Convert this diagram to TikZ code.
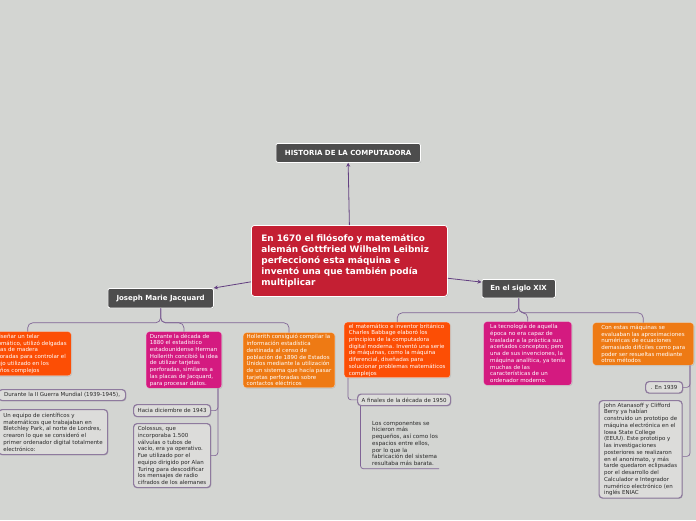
\documentclass[tikz,border=0pt]{standalone}
\usepackage{fontspec}
\setmainfont{DejaVu Sans}
\usetikzlibrary{arrows.meta,shadows,calc}
\definecolor{bgc}{RGB}{211,213,210}
\definecolor{darkbox}{RGB}{77,77,77}
\definecolor{crim}{RGB}{196,31,51}
\definecolor{ored}{RGB}{252,78,5}
\definecolor{mag}{RGB}{212,26,128}
\definecolor{orng}{RGB}{238,122,20}
\definecolor{treec}{RGB}{128,100,150}
\definecolor{arrc}{RGB}{100,65,130}
\definecolor{gborder}{RGB}{142,122,158}
\definecolor{gfill}{RGB}{220,220,218}
\definecolor{gtext}{RGB}{40,40,40}
\tikzset{
  sz/.style 2 args={minimum width=#1, minimum height=#2},
  shd/.style={drop shadow={shadow xshift=0.8pt, shadow yshift=-0.8pt, opacity=0.25}},
  darkbox/.style={shd, draw=white, line width=0.8pt, fill=darkbox, rounded corners=2pt,
    text=white, font=\fontsize{7}{8}\selectfont\bfseries, inner sep=0pt, anchor=north west},
  cbox/.style={shd, draw=white, draw opacity=0.5, line width=0.4pt, rounded corners=3pt,
    text=white, font=\fontsize{5.5}{6.7}\selectfont, align=left, inner xsep=3.5pt,
    inner ysep=1.5pt, anchor=north west},
  gbox/.style={shd, draw=gborder, line width=1.2pt, fill=gfill, rounded corners=3.5pt,
    text=gtext, font=\fontsize{5.5}{6.75}\selectfont, align=left, inner xsep=3.5pt,
    inner ysep=1pt, anchor=north west},
  tree/.style={draw=treec, line width=0.7pt},
  arr/.style={draw=arrc, line width=0.8pt, -{Stealth[length=4pt,width=4pt]}},
}
\begin{document}
\begin{tikzpicture}[x=1pt,y=-1pt]
\useasboundingbox (0,0) rectangle (696,520);
\clip (0,0) rectangle (696,520);
\fill[bgc] (0,0) rectangle (696,520);

% main nodes
\node[darkbox, sz={144.5pt}{19pt}] (title) at (275.5,143) {HISTORIA DE LA COMPUTADORA};
\node[shd, draw=white, line width=0.8pt, fill=crim, rounded corners=3pt, anchor=north west,
  text=white, font=\fontsize{8.9}{10.8}\selectfont\bfseries, align=left,
  text width=176pt, inner xsep=10pt, inner ysep=2pt, sz={195.5pt}{71pt}] (center) at (251,225)
  {En 1670 el filósofo y matemático\\alemán Gottfried Wilhelm Leibniz\\perfeccionó esta máquina e\\inventó una que también podía\\multiplicar};
\node[darkbox, sz={105.5pt}{19.5pt}] (jac) at (107.5,288) {Joseph Marie Jacquard};
\node[darkbox, sz={73.5pt}{18.5pt}] (xix) at (481.5,279) {En el siglo XIX};

% Jacquard branch
\node[cbox, fill=ored, sz={87pt}{44pt}] (o1) at (-16,331.5)
  {Al diseñar un telar\\automático, utilizó delgadas\\placas de madera\\perforadas para controlar el\\dibujo utilizado en los\\diseños complejos};
\node[cbox, fill=mag, sz={75.5pt}{56.5pt}] (m1) at (146,331.5)
  {Durante la década de\\1880 el estadístico\\estadounidense Herman\\Hollerith concibió la idea\\de utilizar tarjetas\\perforadas, similares a\\las placas de Jacquard,\\para procesar datos.};
\node[cbox, fill=orng, sz={91pt}{55pt}] (o2) at (243,332.5)
  {Hollerith consiguió compilar la\\información estadística\\destinada al censo de\\población de 1890 de Estados\\Unidos mediante la utilización\\de un sistema que hacía pasar\\tarjetas perforadas sobre\\contactos eléctricos};

\node[gbox, sz={127pt}{11pt}] (dur) at (-2,389) {Durante la II Guerra Mundial (1939-1945),};
\node[gbox, sz={109pt}{45pt}] (equipo) at (-2,409)
  {Un equipo de científicos y\\matemáticos que trabajaban en\\Bletchley Park, al norte de Londres,\\crearon lo que se consideró el\\primer ordenador digital totalmente\\electrónico:};
\node[gbox, sz={77pt}{12pt}] (hacia) at (133,404) {Hacia diciembre de 1943};
\node[gbox, sz={77pt}{64pt}] (colo) at (133,423)
  {Colossus, que\\incorporaba 1.500\\válvulas o tubos de\\vacío, era ya operativo.\\Fue utilizado por el\\equipo dirigido por Alan\\Turing para descodificar\\los mensajes de radio\\cifrados de los alemanes};

% XIX branch
\node[cbox, fill=ored, sz={106pt}{55pt}] (babb) at (344,322)
  {el matemático e inventor británico\\Charles Babbage elaboró los\\principios de la computadora\\digital moderna. Inventó una serie\\de máquinas, como la máquina\\diferencial, diseñadas para\\solucionar problemas matemáticos\\complejos};
\node[cbox, fill=mag, sz={88pt}{63.5pt}] (m2) at (483.5,321.5)
  {La tecnología de aquella\\época no era capaz de\\trasladar a la práctica sus\\acertados conceptos; pero\\una de sus invenciones, la\\máquina analítica, ya tenía\\muchas de las\\características de un\\ordenador moderno.};
\node[cbox, fill=orng, sz={101pt}{42.5pt}] (o3) at (592.5,322.5)
  {Con estas máquinas se\\evaluaban las aproximaciones\\numéricas de ecuaciones\\demasiado difíciles como para\\poder ser resueltas mediante\\otros métodos};

\node[gbox, sz={93pt}{11.5pt}] (afin) at (357,393.5) {A finales de la década de 1950};
\node[anchor=north west, inner sep=0pt, text=gtext, font=\fontsize{5.6}{6.7}\selectfont, align=left] (los) at (372,421)
  {Los componentes se\\hicieron más\\pequeños, así como los\\espacios entre ellos,\\por lo que la\\fabricación del sistema\\resultaba más barata.};
\node[gbox, sz={37pt}{11.5pt}] (en39) at (645,381) {. En 1939};
\node[gbox, sz={83pt}{97.5pt}] (john) at (598.5,400)
  {John Atanasoff y Clifford\\Berry ya habían\\construido un prototipo de\\máquina electrónica en el\\Iowa State College\\(EEUU). Este prototipo y\\las investigaciones\\posteriores se realizaron\\en el anonimato, y más\\tarde quedaron eclipsadas\\por el desarrollo del\\Calculador e Integrador\\numérico electrónico (en\\inglés ENIAC};

% arrows from center
\draw[arr] (center.north) -- (title.south);
\draw[arr] (center.192) -- (jac.north east);
\draw[arr] (center.-10) -- (xix.170);

% tree connectors
\coordinate (jb) at ($(jac.south)+(0,14.5)$);
\draw[tree, rounded corners=5pt] (jac.south) -- (jb) -| (o1.north);
\draw[tree, rounded corners=5pt] (jac.south) -- (jb) -| (m1.north);
\draw[tree, rounded corners=5pt] (jac.south) -- (jb) -| (o2.north);

\coordinate (xb) at ($(xix.south)+(0,14.5)$);
\draw[tree, rounded corners=5pt] (xix.south) -- (xb) -| (babb.north);
\draw[tree, rounded corners=5pt] (xix.south) -- (xb) -| (m2.north);
\draw[tree, rounded corners=5pt] (xix.south) -- (xb) -| (o3.north);

\coordinate (m1d) at ($(m1.south east)+(-4,0)$);
\draw[tree, rounded corners=3pt] (m1d) |- (hacia.east);
\draw[tree, rounded corners=3pt] (m1d) |- (colo.east);

\coordinate (o3d) at ($(o3.south east)+(-4,0)$);
\draw[tree, rounded corners=3pt] (o3d) |- (en39.east);
\draw[tree, rounded corners=3pt] (o3d) |- ($(john.east)+(0,7)$);

\draw[tree, rounded corners=3pt] ($(babb.south west)+(4,0)$) |- (afin.west);
\draw[tree, rounded corners=3pt] ($(afin.south west)+(3.5,0)$) |- ($(los.south east)+(1,3)$);
\end{tikzpicture}
\end{document}
